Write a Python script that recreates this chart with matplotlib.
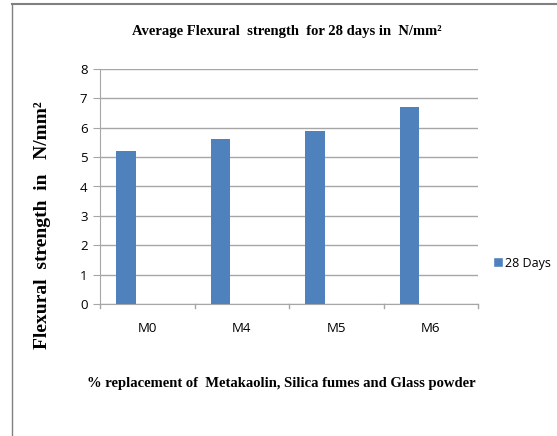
import numpy as np
import matplotlib.pyplot as plt
from matplotlib.lines import Line2D

categories = ["M0", "M4", "M5", "M6"]
strength_28 = [5.2, 5.6, 5.9, 6.7]
series_name = "28 Days"

bar_color = "#4f81bd"
grid_color = "#a6a6a6"

fig = plt.figure(figsize=(5.57, 4.36), dpi=100)
ax = fig.add_axes([100 / 557, 1 - 304 / 436, 378 / 557, 235 / 436])

x = np.arange(len(categories))
ax.bar(x - 0.225, strength_28, width=0.21, color=bar_color, label=series_name, zorder=3)

ax.set_xlim(-0.5, len(categories) - 0.5)
ax.set_ylim(0, 8)
ax.yaxis.grid(True, color=grid_color, linewidth=1, zorder=0)
ax.set_xticks(x)
ax.set_xticklabels(categories, fontsize=9.5, family="Open Sans")
ax.set_yticks(range(0, 9))
ax.set_yticklabels([str(v) for v in range(0, 9)], fontsize=9.5, family="Open Sans")
ax.tick_params(axis="x", length=0, pad=13)
ax.tick_params(axis="y", length=5, color=grid_color, pad=4)

# category separator ticks below axis
for b in np.arange(-0.5, len(categories), 1.0):
    ax.plot([b, b], [0, -0.12], color=grid_color, lw=1, clip_on=False, zorder=2)

for s in ["top", "right"]:
    ax.spines[s].set_visible(False)
ax.spines["left"].set_color(grid_color)
ax.spines["bottom"].set_color(grid_color)

fig.text(287 / 557, 1 - 31 / 436, "Average Flexural  strength  for 28 days in  N/mm²",
         ha="center", va="center", fontsize=10.5, fontweight="bold", family="Liberation Serif")
fig.text(281 / 557, 1 - 383 / 436,
         "% replacement of  Metakaolin, Silica fumes and Glass powder",
         ha="center", va="center", fontsize=10.5, fontweight="bold", family="Liberation Serif")
fig.text(43 / 557, 1 - 225 / 436, "Flexural  strength  in   N/mm²",
         ha="center", va="center", rotation=90, fontsize=14, fontweight="bold",
         family="Liberation Serif")

handle = Line2D([0], [0], marker="s", color="w", markerfacecolor=bar_color,
                markersize=7, linestyle="none")
fig.legend([handle], [series_name], loc="center left",
           bbox_to_anchor=(480 / 557, 1 - 263 / 436), frameon=False,
           prop={"family": "Open Sans", "size": 9}, handletextpad=0.1,
           handlelength=1)

# page border lines
fig.add_artist(Line2D([12 / 557, 12 / 557], [0, 1 - 4 / 436], color="#808080", lw=1))
fig.add_artist(Line2D([12 / 557, 1], [1 - 4 / 436, 1 - 4 / 436], color="#808080", lw=1.5))

fig.savefig("out.png", dpi=100)
